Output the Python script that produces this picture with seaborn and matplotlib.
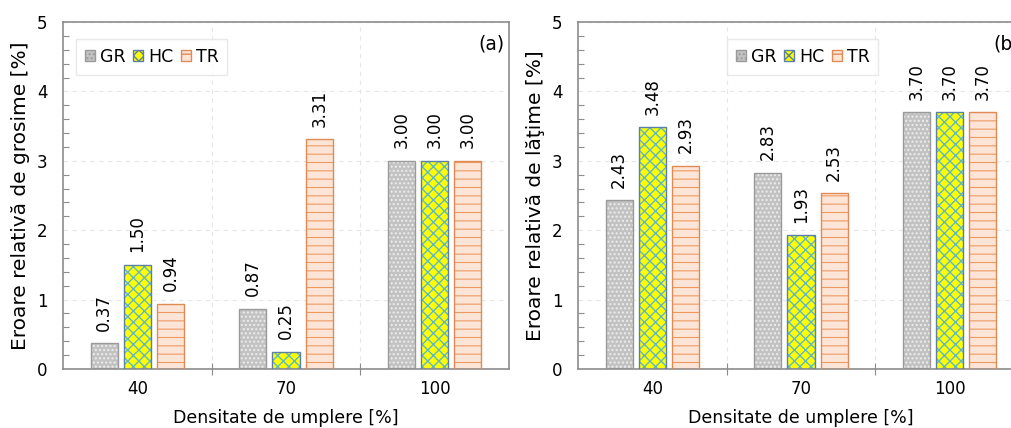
import matplotlib
matplotlib.use("Agg")
import matplotlib.pyplot as plt
from matplotlib.patches import Rectangle
from matplotlib.ticker import MultipleLocator, FixedLocator
import seaborn as sns
import pandas as pd

categories = ["40", "70", "100"]
series = ["GR", "HC", "TR"]
thickness_err = {"GR": [0.37, 0.87, 3.00], "HC": [1.50, 0.25, 3.00], "TR": [0.94, 3.31, 3.00]}
width_err = {"GR": [2.43, 2.83, 3.70], "HC": [3.48, 1.93, 3.70], "TR": [2.93, 2.53, 3.70]}
xlabel = "Densitate de umplere [%]"
ylabel_a = "Eroare relativă de grosime [%]"
ylabel_b = "Eroare relativă de lăţime [%]"

sns.set_style("white")
plt.rcParams["font.family"] = ["DejaVu Sans"]
plt.rcParams["hatch.linewidth"] = 1.0
plt.rcParams["text.color"] = "black"
plt.rcParams["axes.labelcolor"] = "black"
plt.rcParams["xtick.color"] = "black"
plt.rcParams["ytick.color"] = "black"

fill = {"GR": "#c2c2c2", "HC": "#ffff00", "TR": "#fce4d6"}
hatchc = {"GR": "#ededed", "HC": "#5fb8c8", "TR": "#ec9a62"}
hatchp = {"GR": "....", "HC": "xxx", "TR": "--"}
edge = {"GR": "#9a9a9a", "HC": "#5b7fa6", "TR": "#e08a55"}
spine_c = "#8c8c8c"

fig = plt.figure(figsize=(10.11, 4.28), dpi=100)
ax_a = fig.add_axes([63 / 1011, 1 - 369 / 428, 446 / 1011, 347 / 428])
ax_b = fig.add_axes([578 / 1011, 1 - 369 / 428, 446 / 1011, 347 / 428])


def make_df(d):
    rows = []
    for s in series:
        for c, v in zip(categories, d[s]):
            rows.append({"cat": c, "series": s, "val": v})
    return pd.DataFrame(rows)


def draw(ax, d, ylabel, tag, legend_kw):
    df = make_df(d)
    sns.barplot(data=df, x="cat", y="val", hue="series", order=categories,
                hue_order=series, palette=fill, width=0.67, gap=0.18,
                ax=ax, legend=True, saturation=1)
    for si, s in enumerate(series):
        cont = ax.containers[si]
        for p in cont.patches:
            p.set_hatch(hatchp[s])
            p.set_edgecolor(hatchc[s])
            p.set_linewidth(0)
            if s == "TR" and hasattr(p, "set_hatch_linewidth"):
                p.set_hatch_linewidth(0.8)
            ax.add_patch(Rectangle(p.get_xy(), p.get_width(), p.get_height(),
                                   fill=False, edgecolor=edge[s], linewidth=1.0, zorder=3))
        ax.bar_label(cont, labels=[f"{v:.2f}" for v in d[s]], rotation=90,
                     padding=9, fontsize=12, color="black")
    ax.set_ylim(0, 5)
    ax.set_xlim(-0.5, 2.5)
    ax.yaxis.set_major_locator(MultipleLocator(1))
    ax.yaxis.set_minor_locator(MultipleLocator(0.2))
    ax.xaxis.set_minor_locator(FixedLocator([0.5, 1.5]))
    ax.tick_params(axis="y", which="major", direction="inout", length=6, width=0.8,
                   color=spine_c, labelcolor="black", labelsize=12, pad=8)
    ax.tick_params(axis="y", which="minor", direction="in", length=4, width=0.8,
                   color=spine_c, left=True)
    ax.tick_params(axis="x", which="major", length=0, labelsize=12, labelcolor="black", pad=8)
    ax.tick_params(axis="x", which="minor", direction="inout", length=8, width=0.8,
                   color=spine_c, bottom=True)
    ax.grid(True, axis="y", which="major", linestyle=(0, (4, 4)), color="#e6e6e6", linewidth=0.8)
    ax.grid(True, axis="x", which="minor", linestyle=(0, (4, 4)), color="#e6e6e6", linewidth=0.8)
    ax.set_axisbelow(True)
    for sp in ax.spines.values():
        sp.set_color(spine_c)
        sp.set_linewidth(1.2)
    ax.set_xlabel(xlabel, fontsize=12.5, labelpad=8, color="black")
    ax.set_ylabel(ylabel, fontsize=14.5, labelpad=5, color="black")
    ax.text(0.99, 0.965, tag, transform=ax.transAxes, ha="right", va="top", fontsize=13.5,
            color="black")
    leg = ax.legend(ncol=3, fontsize=12.5, handlelength=0.6, handleheight=0.6,
                    handletextpad=0.25, columnspacing=0.45, borderpad=0.5,
                    frameon=True, fancybox=False, edgecolor="#e4e4e4", **legend_kw)
    for t in leg.get_texts():
        t.set_color("black")
    for h, s in zip(leg.legend_handles, series):
        h.set_facecolor(fill[s])
        h.set_hatch(hatchp[s])
        h.set_edgecolor(edge[s])
        h.set_linewidth(1.0)


draw(ax_a, thickness_err, ylabel_a, "(a)", dict(loc="upper left", bbox_to_anchor=(0.01, 0.975)))
draw(ax_b, width_err, ylabel_b, "(b)", dict(loc="upper left", bbox_to_anchor=(0.315, 0.975)))

fig.savefig("out.png", dpi=100)
